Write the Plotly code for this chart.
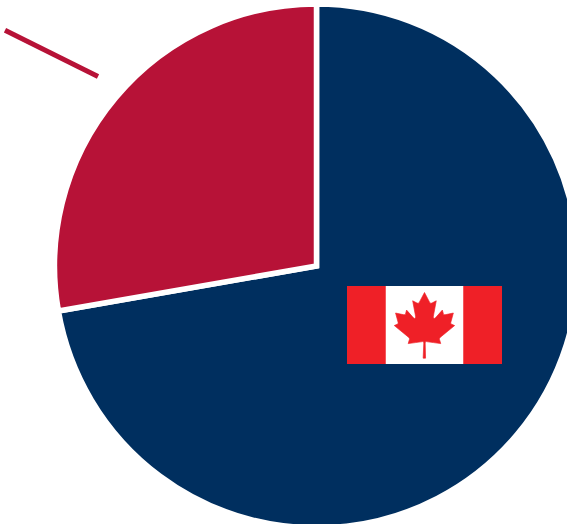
import base64
import plotly.graph_objects as go

categories = ["Canada", "Other"]
shares = [72.25, 27.75]
slice_colors = ["#002F5F", "#B71237"]

W, H = 633, 532           # canvas is wider than the window: the pie is cut off at the right edge
CX, CY, R = 316.5, 266.0, 262.0


def px(x):
    return x / W


def py(y):
    return 1 - y / H


FLAG_RED = "#EF2027"
FLAG_SVG = (
    '<svg xmlns="http://www.w3.org/2000/svg" viewBox="0 0 9600 4800" preserveAspectRatio="none">'
    f'<rect width="9600" height="4800" fill="{FLAG_RED}"/>'
    '<rect x="2400" width="4800" height="4800" fill="#fff"/>'
    f'<path fill="{FLAG_RED}" stroke="{FLAG_RED}" stroke-width="40" '
    'd="m4800 400-327 610c-37 66-103 60-169 23l-237-122 177 938c37 171-82 171-141 97'
    'l-413-462-67 234c-8 31-42 63-93 55l-522-110 137 499c29 111 52 157-30 186l-186 87 898 729c36 28 54 78 41 123'
    'l-79 258c309-36 586-89 895-122 27-3 73 41 73 73l-41 944h150l-24-942c0-32 42-78 69-75 309 33 586 86 895 122'
    'l-79-258c-13-45 5-95 41-123l898-729-186-87c-82-29-59-75-30-186l137-499-522 110c-51 8-85-24-93-55'
    'l-67-234-413 462c-59 74-178 74-141-97l177-938-237 122c-66 37-132 43-169-23z"/></svg>'
)
flag_uri = "data:image/svg+xml;base64," + base64.b64encode(FLAG_SVG.encode()).decode()

fig = go.Figure(
    go.Pie(
        labels=categories,
        values=shares,
        sort=False,
        direction="clockwise",
        rotation=0,
        textinfo="none",
        hoverinfo="label+percent",
        showlegend=False,
        marker=dict(colors=slice_colors, line=dict(color="#FFFFFF", width=5.5)),
        domain=dict(x=[px(CX - R), px(CX + R)], y=[py(CY + R), py(CY - R)]),
    )
)

fig.update_layout(
    width=W,
    height=H,
    autosize=False,
    margin=dict(l=0, r=0, t=0, b=0),
    paper_bgcolor="#FFFFFF",
    shapes=[
        dict(
            type="line", xref="paper", yref="paper",
            x0=px(5), y0=py(30.3), x1=px(98), y1=py(76.5),
            line=dict(color=slice_colors[1], width=5),
        )
    ],
    images=[
        dict(
            source=flag_uri, xref="paper", yref="paper",
            x=px(347), y=py(286), sizex=155 / W, sizey=78 / H,
            xanchor="left", yanchor="top", sizing="stretch", layer="above",
        )
    ],
)

fig.write_html(
    "out.html",
    config={"displayModeBar": False},
    post_script=(
        "document.documentElement.style.overflow='hidden';"
        "document.body.style.overflow='hidden';document.body.style.margin='0';"
        "document.querySelectorAll('.slice path').forEach(function(p){"
        "p.style.strokeLinejoin='miter';});"
    ),
)
